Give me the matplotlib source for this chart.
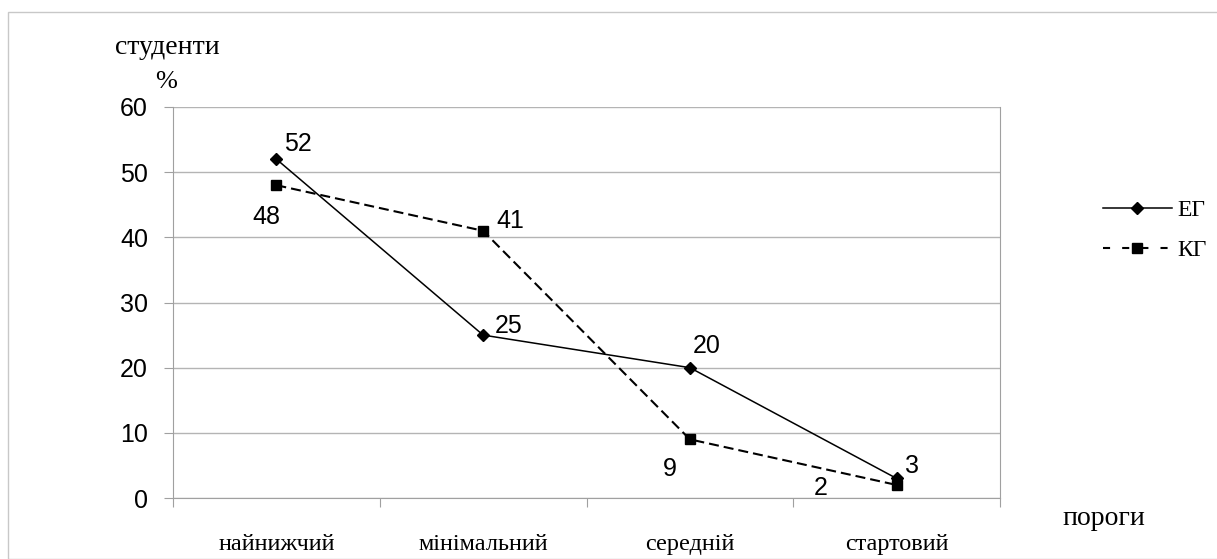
import matplotlib
matplotlib.use("Agg")
import matplotlib.pyplot as plt
from matplotlib.lines import Line2D

levels = ["найнижчий", "мінімальний", "середній", "стартовий"]
eg = [52, 25, 20, 3]
kg = [48, 41, 9, 2]
yticks = [0, 10, 20, 30, 40, 50, 60]

# label placement in pixels from the point: (dx, dy, ha)
eg_off = [(8, 8, "left"), (12, 2, "left"), (3, 15, "left"), (8, 5, "left")]
kg_off = [(4, -39, "right"), (13, 3, "left"), (-13, -37, "right"), (-69, -10, "right")]

W, H = 1217, 559
fig = plt.figure(figsize=(W / 100, H / 100), dpi=100)
ax = fig.add_axes([173 / W, 1 - 498 / H, (1000 - 173) / W, (498 - 107) / H])

num_font = {"family": "Liberation Sans", "size": 18}
txt_font = "Liberation Serif"

x = list(range(len(levels)))
ax.plot(x, eg, color="black", lw=1.1, marker="D", ms=6.3, zorder=3)
ax.plot(x, kg, color="black", lw=1.5, ls=(0, (4.8, 2.4)), marker="s", ms=7, zorder=3)

for xi, v, (dx, dy, ha) in zip(x, eg, eg_off):
    ax.annotate(str(v), (xi, v), xytext=(dx, dy), textcoords="offset pixels",
                ha=ha, va="baseline", **num_font)
for xi, v, (dx, dy, ha) in zip(x, kg, kg_off):
    ax.annotate(str(v), (xi, v), xytext=(dx, dy), textcoords="offset pixels",
                ha=ha, va="baseline", **num_font)

ax.set_xlim(-0.5, len(levels) - 0.5)
ax.set_ylim(0, 60)
ax.set_yticks(yticks)
ax.set_yticklabels([str(t) for t in yticks], **num_font)

# category boundaries as major ticks, names on minor ticks
ax.set_xticks([i - 0.5 for i in range(len(levels) + 1)])
ax.set_xticklabels([])
ax.set_xticks(x, minor=True)
ax.set_xticklabels(levels, minor=True, family=txt_font, fontsize=17.5)
for t in ax.get_xticklabels(minor=True):
    t.set_va("baseline")
ax.tick_params(axis="x", which="major", length=6.5, color="#a0a0a0", direction="out")
ax.tick_params(axis="x", which="minor", length=0, pad=37.4)
ax.tick_params(axis="y", length=6.5, color="#a0a0a0", pad=11.5)

ax.grid(axis="y", color="#b4b4b4", lw=1)
for s in ["left", "right", "bottom"]:
    ax.spines[s].set_color("#a0a0a0")
ax.spines["top"].set_visible(False)

fig.text(115 / W, 1 - 54 / H, "студенти", family=txt_font, fontsize=20, va="baseline")
fig.text(155 / W, 1 - 88 / H, "%", family=txt_font, fontsize=19, va="baseline")
fig.text(1062 / W, 1 - 525 / H, "пороги", family=txt_font, fontsize=20, va="baseline")

handles = [
    Line2D([], [], color="black", lw=1.1, marker="D", ms=6.3),
    Line2D([], [], color="black", lw=1.5, ls=(0, (3.4, 5.8)), marker="s", ms=7),
]
fig.legend(handles, ["ЕГ", "КГ"], loc="center left", bbox_to_anchor=(1103 / W, 1 - 230.5 / H),
           frameon=False, prop={"family": txt_font, "size": 17},
           handlelength=2.92, handletextpad=0.25, labelspacing=0.8,
           borderpad=0, borderaxespad=0)

fig.patches.append(plt.Rectangle((7.5 / W, 0), 1, 1 - 11.5 / H, transform=fig.transFigure,
                                 fill=False, edgecolor="#c8c8c8", lw=1))

fig.savefig("out.png", dpi=100)
